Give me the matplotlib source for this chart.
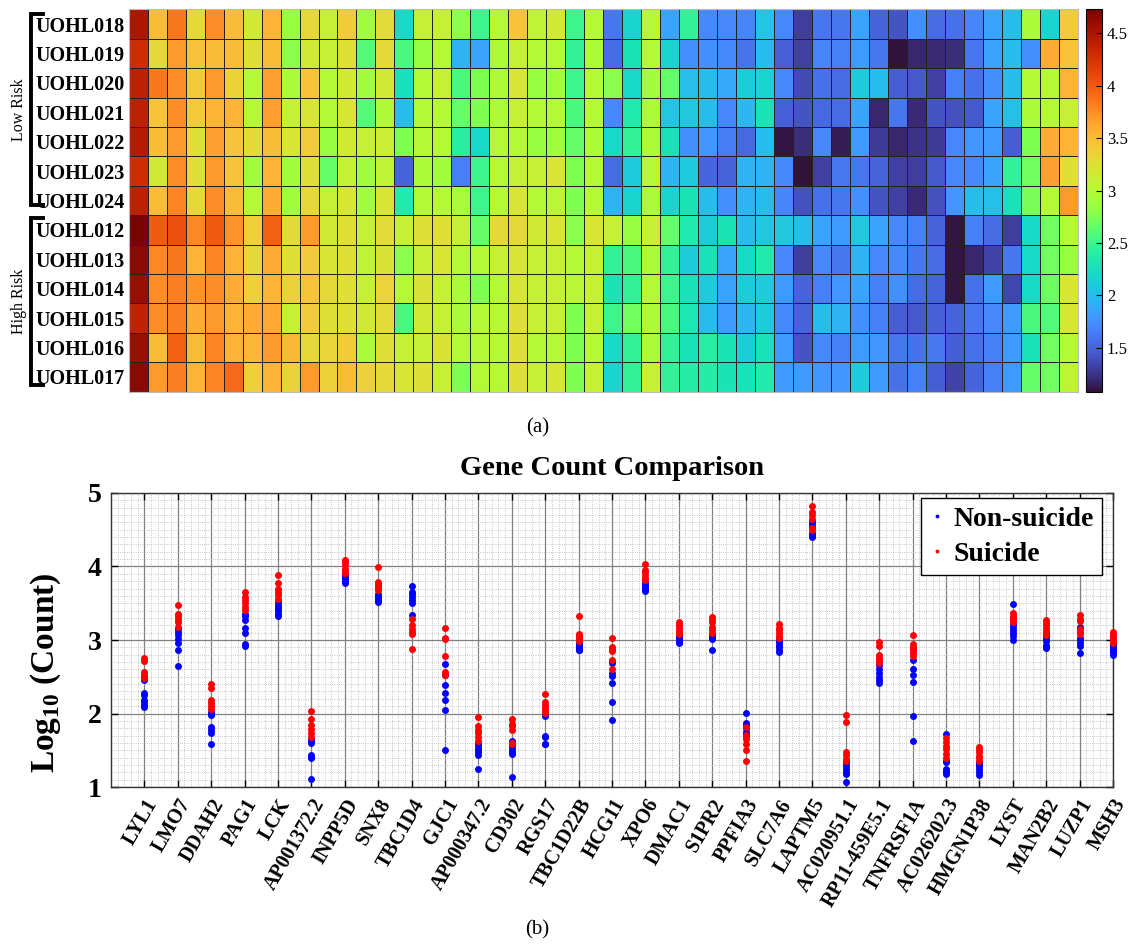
import numpy as np
import matplotlib.pyplot as plt
from matplotlib.ticker import MultipleLocator
from matplotlib.lines import Line2D

plt.rcParams['font.family'] = 'Liberation Serif'
plt.rcParams['mathtext.fontset'] = 'custom'
plt.rcParams['mathtext.rm'] = 'Liberation Serif:bold'
plt.rcParams['mathtext.bf'] = 'Liberation Serif:bold'

# ---- (a) heatmap: log10 counts, 13 samples x 50 genes ----
low_risk_ids = ['UOHL018', 'UOHL019', 'UOHL020', 'UOHL021', 'UOHL022', 'UOHL023', 'UOHL024']
high_risk_ids = ['UOHL012', 'UOHL013', 'UOHL014', 'UOHL015', 'UOHL016', 'UOHL017']

low_risk_rows = [
    [4.5, 3.5, 3.85, 3.3, 3.75, 3.5, 3.15, 3.55, 2.85, 3.3, 3.1, 3.4, 2.9, 3.28,
     2.2, 3.1, 3.1, 2.8, 2.5, 3.0, 3.45, 3.05, 3.15, 2.5, 3.0, 1.6, 2.15, 3.0, 1.85, 2.45, 1.72, 1.7, 1.69,
     2.05, 1.72, 1.3, 1.6, 1.6, 1.85, 1.5, 1.42, 1.75, 1.55, 1.57, 1.68, 1.85, 2.0, 2.95, 2.15, 3.4],
    [4.3, 3.3, 3.7, 3.45, 3.5, 3.5, 3.25, 3.5, 2.8, 3.15, 3.1, 3.25, 2.6, 3.3,
     2.55, 2.85, 3.0, 1.95, 1.85, 2.95, 3.1, 3.0, 3.0, 2.45, 2.95, 1.55, 2.3, 3.0, 2.15, 1.75, 1.75, 1.72, 1.58,
     2.0, 1.48, 1.32, 1.68, 1.66, 1.82, 1.6, 1.08, 1.18, 1.2, 1.22, 1.6, 1.85, 2.0, 1.75, 3.6, 3.45],
    [4.4, 3.85, 3.75, 3.4, 3.7, 3.35, 3.0, 3.65, 2.95, 3.45, 3.0, 3.15, 2.9, 3.15,
     2.25, 3.0, 3.1, 2.55, 2.75, 2.95, 3.2, 2.85, 2.9, 2.5, 3.0, 2.8, 2.2, 2.9, 2.65, 2.02, 2.0, 1.88, 2.12,
     2.17, 1.72, 1.37, 1.57, 1.55, 2.1, 2.0, 1.47, 1.45, 1.32, 1.66, 1.57, 1.75, 2.0, 3.0, 3.0, 3.55],
    [4.4, 3.45, 3.75, 3.4, 3.55, 3.55, 3.0, 3.65, 3.1, 3.2, 3.0, 3.2, 2.6, 2.98,
     2.0, 3.0, 3.0, 2.65, 2.75, 2.95, 3.1, 3.0, 3.0, 2.55, 3.0, 1.72, 2.35, 2.95, 2.05, 2.07, 2.0, 1.7, 1.97,
     2.3, 1.48, 1.42, 1.53, 1.55, 1.85, 1.18, 1.6, 1.2, 1.42, 1.4, 1.45, 1.85, 2.03, 2.95, 3.0, 3.1],
    [4.45, 3.5, 3.7, 3.25, 3.65, 3.45, 3.3, 3.5, 3.2, 3.4, 2.85, 3.15, 3.1, 3.12,
     2.75, 3.0, 3.0, 2.4, 2.2, 3.0, 3.0, 2.85, 2.9, 2.65, 2.95, 2.2, 2.45, 2.95, 2.27, 1.75, 1.78, 1.65, 1.53,
     2.0, 1.1, 1.22, 1.7, 1.15, 1.82, 1.28, 1.18, 1.24, 1.28, 1.7, 1.78, 1.82, 1.47, 2.75, 3.6, 3.55],
    [4.3, 3.15, 3.75, 3.25, 3.7, 3.45, 2.9, 3.55, 2.9, 3.25, 2.65, 3.1, 2.9, 3.05,
     1.5, 2.95, 2.9, 1.66, 2.5, 3.0, 3.1, 3.1, 3.2, 2.75, 3.0, 1.55, 2.1, 3.0, 1.95, 2.1, 1.52, 1.5, 1.96,
     1.95, 1.72, 1.08, 1.32, 1.62, 1.6, 1.5, 1.32, 1.3, 1.45, 1.7, 1.7, 1.85, 2.45, 2.7, 3.65, 3.25],
    [4.4, 3.5, 3.8, 3.3, 3.75, 3.5, 3.0, 3.6, 2.9, 3.3, 3.1, 3.2, 2.9, 3.2,
     2.35, 3.0, 3.0, 2.95, 2.5, 3.0, 3.2, 3.0, 3.02, 2.75, 3.0, 1.95, 2.17, 2.95, 2.17, 2.3, 2.0, 1.74, 1.95,
     2.0, 1.68, 1.4, 1.57, 1.6, 1.75, 1.42, 1.32, 1.2, 1.4, 1.78, 2.0, 2.03, 2.27, 2.72, 3.0, 3.7],
]

high_risk_rows = [
    [4.73, 4.0, 4.05, 3.78, 4.0, 3.72, 3.35, 3.97, 3.3, 3.68, 3.15, 3.25, 3.1, 3.28,
     3.1, 3.25, 3.25, 3.1, 2.65, 3.3, 3.3, 3.15, 3.2, 2.8, 3.2, 3.1, 2.85, 3.1, 2.65, 2.35, 2.12, 2.3, 2.0,
     2.07, 2.07, 2.0, 1.85, 1.82, 2.07, 1.85, 1.7, 1.66, 1.5, 1.1, 1.66, 1.55, 1.3, 2.2, 2.7, 3.0],
    [4.65, 3.78, 3.85, 3.55, 3.8, 3.55, 3.3, 3.6, 3.25, 3.4, 3.2, 3.25, 3.05, 3.22,
     2.8, 3.1, 3.2, 3.0, 3.0, 3.1, 3.2, 3.1, 3.1, 3.0, 3.1, 2.45, 2.55, 2.95, 2.45, 2.12, 2.27, 1.85, 2.22,
     2.35, 1.7, 1.3, 1.7, 1.6, 1.95, 1.7, 1.7, 1.6, 1.55, 1.1, 1.18, 1.33, 1.6, 2.2, 2.7, 2.85],
    [4.6, 3.75, 3.82, 3.72, 3.75, 3.6, 3.35, 3.55, 3.35, 3.45, 3.3, 3.25, 3.1, 3.34,
     3.0, 3.22, 3.1, 2.95, 2.75, 3.0, 3.2, 3.1, 3.1, 3.02, 3.1, 2.3, 2.45, 3.0, 2.5, 2.27, 2.1, 1.85, 2.11,
     2.12, 1.82, 1.5, 1.66, 1.78, 1.85, 1.66, 1.75, 1.55, 1.5, 1.1, 1.57, 1.82, 1.35, 2.22, 2.68, 3.2],
    [4.38, 3.75, 3.82, 3.6, 3.7, 3.55, 3.6, 3.62, 3.1, 3.4, 3.25, 3.25, 3.15, 3.28,
     2.55, 3.15, 3.1, 2.95, 3.0, 3.0, 3.25, 3.1, 3.1, 2.75, 3.1, 2.5, 2.7, 2.95, 2.55, 2.33, 2.0, 1.82, 1.97,
     2.12, 1.72, 1.5, 2.0, 1.95, 1.75, 1.66, 1.47, 1.45, 1.48, 1.5, 1.6, 1.7, 1.82, 2.55, 2.58, 3.2],
    [4.6, 3.5, 3.97, 3.5, 3.8, 3.55, 3.52, 3.7, 3.52, 3.3, 3.32, 3.4, 2.95, 3.25,
     3.1, 3.1, 3.22, 3.0, 3.0, 3.0, 3.25, 3.0, 3.0, 2.75, 3.0, 2.22, 2.45, 2.95, 2.45, 2.27, 2.4, 2.3, 2.11,
     2.27, 1.82, 1.42, 1.72, 1.66, 1.82, 1.78, 1.6, 1.57, 1.62, 1.47, 1.57, 1.66, 1.82, 2.27, 2.7, 3.0],
    [4.65, 3.7, 3.82, 3.55, 3.8, 3.93, 3.35, 3.55, 3.35, 3.7, 3.35, 3.5, 3.35, 3.3,
     3.2, 3.25, 3.1, 2.75, 3.0, 3.0, 3.25, 3.1, 3.18, 2.75, 3.1, 2.17, 2.45, 3.1, 2.45, 2.38, 2.38, 2.3, 2.28,
     2.35, 1.82, 1.82, 1.78, 1.78, 2.1, 1.82, 1.57, 1.66, 1.47, 1.33, 1.5, 1.66, 1.82, 2.65, 2.7, 3.05],
]

# ---- (b) per-gene log10 counts ----
genes = ['LYL1', 'LMO7', 'DDAH2', 'PAG1', 'LCK', 'AP001372.2', 'INPP5D', 'SNX8',
         'TBC1D4', 'GJC1', 'AP000347.2', 'CD302', 'RGS17', 'TBC1D22B', 'HCG11',
         'XPO6', 'DMAC1', 'S1PR2', 'PPFIA3', 'SLC7A6', 'LAPTM5', 'AC020951.1',
         'RP11-459E5.1', 'TNFRSF1A', 'AC026202.3', 'HMGN1P38', 'LYST', 'MAN2B2',
         'LUZP1', 'MSH3']

non_suicide = [
    [2.45, 2.28, 2.25, 2.18, 2.15, 2.12, 2.09],
    [3.15, 3.11, 3.07, 3.02, 2.96, 2.86, 2.64],
    [2.02, 1.99, 1.98, 1.81, 1.77, 1.73, 1.59],
    [3.36, 3.32, 3.27, 3.16, 3.09, 2.95, 2.92],
    [3.52, 3.48, 3.45, 3.42, 3.39, 3.36, 3.33],
    [1.64, 1.62, 1.60, 1.44, 1.41, 1.39, 1.11],
    [3.88, 3.86, 3.85, 3.83, 3.81, 3.79, 3.77],
    [3.62, 3.60, 3.58, 3.56, 3.55, 3.53, 3.52],
    [3.73, 3.65, 3.62, 3.58, 3.55, 3.50, 3.34],
    [2.68, 2.52, 2.39, 2.28, 2.18, 2.05, 1.50],
    [1.60, 1.57, 1.53, 1.51, 1.48, 1.44, 1.25],
    [1.62, 1.58, 1.54, 1.50, 1.47, 1.45, 1.14],
    [2.00, 1.98, 1.96, 1.70, 1.68, 1.59, 1.58],
    [2.96, 2.95, 2.93, 2.91, 2.89, 2.87, 2.86],
    [2.72, 2.69, 2.55, 2.51, 2.42, 2.15, 1.91],
    [3.78, 3.76, 3.74, 3.72, 3.70, 3.68, 3.66],
    [3.06, 3.03, 3.01, 3.00, 2.98, 2.97, 2.96],
    [3.07, 3.06, 3.05, 3.04, 3.03, 3.02, 2.87],
    [2.01, 1.87, 1.84, 1.80, 1.75, 1.72, 1.70],
    [3.01, 2.99, 2.97, 2.93, 2.90, 2.86, 2.83],
    [4.62, 4.59, 4.55, 4.46, 4.43, 4.41, 4.40],
    [1.35, 1.32, 1.28, 1.24, 1.21, 1.18, 1.07],
    [2.70, 2.66, 2.60, 2.55, 2.50, 2.45, 2.41],
    [2.89, 2.73, 2.60, 2.52, 2.43, 1.96, 1.62],
    [1.72, 1.36, 1.34, 1.24, 1.21, 1.20, 1.18],
    [1.34, 1.32, 1.30, 1.28, 1.24, 1.20, 1.17],
    [3.49, 3.22, 3.18, 3.14, 3.10, 3.05, 3.00],
    [3.10, 3.05, 3.01, 2.98, 2.93, 2.91, 2.89],
    [3.18, 3.10, 3.03, 3.00, 2.96, 2.92, 2.82],
    [2.95, 2.92, 2.90, 2.88, 2.86, 2.83, 2.80],
]

suicide = [
    [2.76, 2.72, 2.56, 2.53, 2.50, 2.48],
    [3.48, 3.36, 3.32, 3.28, 3.25, 3.18],
    [2.40, 2.35, 2.18, 2.14, 2.10, 2.06],
    [3.65, 3.59, 3.55, 3.50, 3.45, 3.41],
    [3.88, 3.78, 3.69, 3.65, 3.61, 3.56],
    [2.03, 1.92, 1.84, 1.79, 1.74, 1.68],
    [4.09, 4.06, 4.02, 3.97, 3.94, 3.91],
    [3.99, 3.79, 3.76, 3.73, 3.71, 3.68],
    [3.28, 3.20, 3.15, 3.11, 3.08, 2.88],
    [3.17, 3.03, 3.01, 2.78, 2.57, 2.53],
    [1.95, 1.83, 1.78, 1.73, 1.68, 1.63],
    [1.93, 1.86, 1.83, 1.78, 1.60, 1.58],
    [2.26, 2.16, 2.11, 2.07, 2.04, 2.01],
    [3.33, 3.08, 3.05, 3.03, 3.01, 2.99],
    [3.03, 2.91, 2.88, 2.85, 2.73, 2.60],
    [4.04, 3.95, 3.92, 3.89, 3.85, 3.81],
    [3.24, 3.21, 3.18, 3.14, 3.11, 3.08],
    [3.31, 3.27, 3.24, 3.18, 3.14, 3.10],
    [1.82, 1.71, 1.65, 1.59, 1.51, 1.35],
    [3.22, 3.17, 3.13, 3.09, 3.06, 3.03],
    [4.82, 4.74, 4.70, 4.65, 4.52, 4.49],
    [1.98, 1.89, 1.48, 1.43, 1.38, 1.36],
    [2.97, 2.92, 2.80, 2.76, 2.72, 2.69],
    [3.07, 2.94, 2.91, 2.87, 2.82, 2.78],
    [1.66, 1.61, 1.56, 1.52, 1.45, 1.40],
    [1.55, 1.50, 1.47, 1.42, 1.39, 1.36],
    [3.37, 3.33, 3.30, 3.28, 3.27, 3.25],
    [3.27, 3.23, 3.20, 3.16, 3.12, 3.07],
    [3.34, 3.29, 3.26, 3.15, 3.11, 3.08],
    [3.11, 3.07, 3.04, 3.01, 2.98, 2.96],
]

W, H = 1133, 946
fig = plt.figure(figsize=(W / 100, H / 100), dpi=100)


def fig_rect(x0, y0, x1, y1):
    # pixel box (top-left origin) -> figure fraction rect
    return [x0 / W, 1 - y1 / H, (x1 - x0) / W, (y1 - y0) / H]


# ---------------- heatmap ----------------
ax1 = fig.add_axes(fig_rect(128.7, 9.3, 1077.7, 391.7))
cax = fig.add_axes(fig_rect(1086, 9.3, 1102, 391.7))

sample_ids = low_risk_ids + high_risk_ids
data = np.array(low_risk_rows + high_risk_rows)
mesh = ax1.pcolormesh(data, cmap='turbo', vmin=1.08, vmax=4.73,
                      edgecolors='#222222', linewidth=0.7)
ax1.set_xlim(0, data.shape[1])
ax1.set_ylim(data.shape[0], 0)
ax1.set_xticks([])
ax1.set_yticks(np.arange(len(sample_ids)) + 0.5)
ax1.set_yticklabels(sample_ids, fontsize=14.5, fontweight='bold')
ax1.tick_params(axis='y', length=0, pad=3)
for s in ax1.spines.values():
    s.set_color('#bbbbbb')
    s.set_linewidth(0.8)

cb = fig.colorbar(mesh, cax=cax, ticks=[1.5, 2, 2.5, 3, 3.5, 4, 4.5])
cb.ax.set_yticklabels(['1.5', '2', '2.5', '3', '3.5', '4', '4.5'])
cb.ax.tick_params(direction='in', length=4, labelsize=12, width=0.8)
cb.outline.set_linewidth(0.8)

# group brackets
for (y0, y1, name) in [(14, 205, 'Low Risk'), (218, 385, 'High Risk')]:
    xs = [43 / W, 31 / W, 31 / W, 43 / W]
    ys = [1 - y0 / H, 1 - y0 / H, 1 - y1 / H, 1 - y1 / H]
    fig.add_artist(Line2D(xs, ys, color='black', linewidth=2.8,
                          solid_joinstyle='miter', transform=fig.transFigure))
    fig.text(19 / W, 1 - (y0 + y1) / 2 / H, name, rotation=90,
             ha='center', va='center', fontsize=11.5)

fig.text(538 / W, 1 - 428 / H, '(a)', ha='center', va='center', fontsize=15)

# ---------------- scatter ----------------
ax2 = fig.add_axes(fig_rect(111, 493, 1113, 787))
x = np.arange(1, len(genes) + 1)
for i in range(len(genes)):
    ax2.plot(np.full(len(non_suicide[i]), x[i]), non_suicide[i], 'o',
             color='#0000ff', markersize=5, markeredgewidth=0, clip_on=False,
             zorder=3, label='Non-suicide' if i == 0 else None)
for i in range(len(genes)):
    ax2.plot(np.full(len(suicide[i]), x[i]), suicide[i], 'o',
             color='#ff0000', markersize=5, markeredgewidth=0, clip_on=False,
             zorder=4, label='Suicide' if i == 0 else None)

ax2.set_xlim(0, len(genes))
ax2.set_ylim(1, 5)
ax2.set_xticks(x)
ax2.set_xticklabels(genes, rotation=60, ha='right', rotation_mode='anchor',
                    fontsize=14.5, fontweight='bold')
ax2.set_yticks([1, 2, 3, 4, 5])
ax2.set_yticklabels(['1', '2', '3', '4', '5'], fontsize=20, fontweight='bold')
ax2.xaxis.set_minor_locator(MultipleLocator(0.2))
ax2.yaxis.set_minor_locator(MultipleLocator(0.1))
ax2.grid(which='major', color='#808080', linewidth=0.9)
ax2.grid(which='minor', color='#b5b5b5', linestyle=':', linewidth=0.6)
ax2.set_axisbelow(True)
ax2.tick_params(which='major', direction='in', length=5, width=1,
                top=True, right=True)
ax2.tick_params(axis='x', pad=6)
ax2.tick_params(axis='y', pad=7)
ax2.tick_params(which='minor', length=0)
for s in ax2.spines.values():
    s.set_linewidth(1.0)
    s.set_color('#333333')

ax2.set_title('Gene Count Comparison', fontsize=20.5, fontweight='bold', pad=13)
ax2.set_ylabel(r'Log$_{10}$ (Count)', fontsize=24, fontweight='bold')
ax2.yaxis.set_label_coords(-0.048, 0.39)

leg = ax2.legend(loc='upper right', bbox_to_anchor=(0.989, 0.983),
                 borderaxespad=0, fancybox=False, framealpha=1,
                 edgecolor='black', markerscale=0.55, handlelength=0.5,
                 handletextpad=0.35, labelspacing=0.35, borderpad=0.3,
                 prop={'family': 'Liberation Serif', 'weight': 'bold', 'size': 20})
leg.get_frame().set_linewidth(1.0)

fig.text(537 / W, 1 - 930 / H, '(b)', ha='center', va='center', fontsize=15)

fig.savefig('out.png', dpi=100)
